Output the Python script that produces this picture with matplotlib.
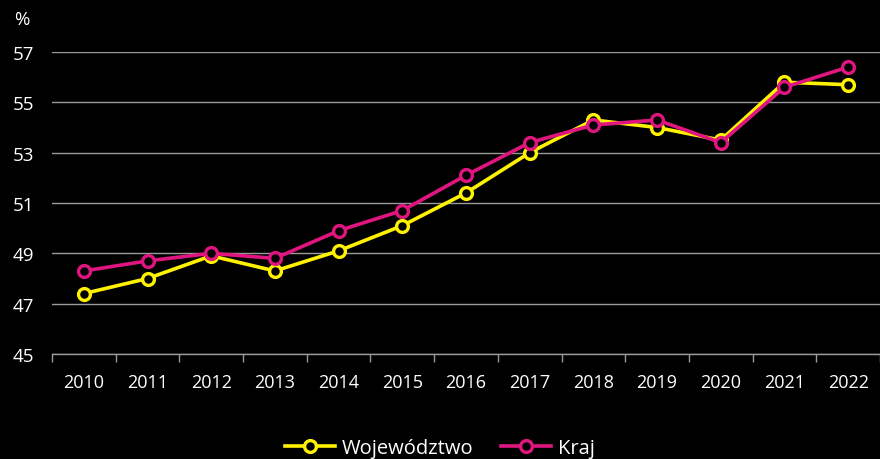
import matplotlib.pyplot as plt
import numpy as np

years = ['2010', '2011', '2012', '2013', '2014', '2015', '2016',
         '2017', '2018', '2019', '2020', '2021', '2022']
wojewodztwo = [47.4, 48.0, 48.9, 48.3, 49.1, 50.1, 51.4, 53.0, 54.3, 54.0, 53.5, 55.8, 55.7]
kraj = [48.3, 48.7, 49.0, 48.8, 49.9, 50.7, 52.1, 53.4, 54.1, 54.3, 53.4, 55.6, 56.4]
y_ticks = [45, 47, 49, 51, 53, 55, 57]

plt.rcParams['font.family'] = ['Open Sans', 'DejaVu Sans']

YELLOW = '#FFF200'
MAGENTA = '#E0157F'
GRID = '#9a9a9a'

fig = plt.figure(figsize=(8.8, 4.6), dpi=100, facecolor='black')
ax = fig.add_axes([52 / 880, 1 - 355 / 460, 1 - 52 / 880, (355 - 53) / 460])
ax.set_facecolor('black')

x = np.arange(len(years))
ax.plot(x, wojewodztwo, color=YELLOW, lw=2.6, marker='o', ms=8.5,
        mfc='black', mec=YELLOW, mew=2.4, label='Województwo', zorder=3)
ax.plot(x, kraj, color=MAGENTA, lw=2.6, marker='o', ms=8.5,
        mfc='black', mec=MAGENTA, mew=2.4, label='Kraj', zorder=4)

ax.set_xlim(-0.5, len(years) - 0.5)
ax.set_ylim(45, 57)
ax.set_yticks(y_ticks)
ax.set_xticks(x)
ax.set_xticklabels(years)
ax.set_xticks(np.arange(-0.5, len(years)), minor=True)

ax.grid(axis='y', color=GRID, lw=1)
ax.set_axisbelow(True)
for s in ['top', 'right', 'left']:
    ax.spines[s].set_visible(False)
ax.spines['bottom'].set_color(GRID)
ax.spines['bottom'].set_linewidth(1)

ax.tick_params(axis='y', length=0, pad=13, labelsize=13.5, labelcolor='white')
ax.tick_params(axis='x', which='major', length=0, pad=14, labelsize=13, labelcolor='white')
ax.tick_params(axis='x', which='minor', length=6, color=GRID, width=1)

fig.text(22 / 880, 1 - 20 / 460, '%', color='white', fontsize=13.5, ha='center', va='center')

leg = fig.legend(loc='center', bbox_to_anchor=(0.5, 1 - 449 / 460), ncol=2,
                 frameon=False, fontsize=14.5, labelcolor='white',
                 handlelength=2.5, handletextpad=0.35, columnspacing=1.35)

fig.savefig('out.png', dpi=100, facecolor='black')
